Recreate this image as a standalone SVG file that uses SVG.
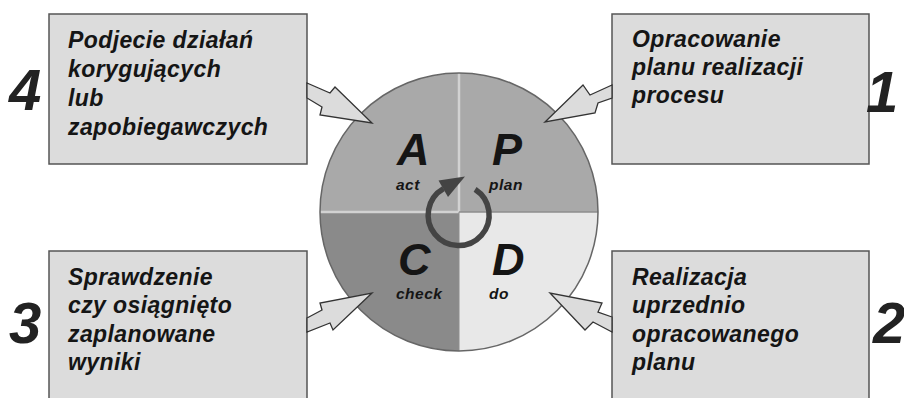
<svg xmlns="http://www.w3.org/2000/svg" width="904" height="398" viewBox="0 0 904 398">
<style>
.box{fill:#dcdcdc;stroke:#555;stroke-width:1.5}
.t{font-family:"Liberation Sans",Arial,sans-serif;font-weight:bold;font-style:italic;fill:#151515}
.bt{font-size:23px;letter-spacing:0.4px}
.num{font-size:58px;fill:#222}
.big{font-size:45px}
.small{font-size:15.5px;letter-spacing:0.5px}
.arr{fill:#dcdcdc;stroke:#333;stroke-width:1.3;stroke-linejoin:miter}
</style>
<rect width="904" height="398" fill="#fff"/>
<g id="cycle">
<path d="M459,212 L459,73 A139,139 0 0 0 320,212 Z" fill="#a9a9a9"/>
<path d="M459,212 L459,73 A139,139 0 0 1 598,212 Z" fill="#a9a9a9"/>
<path d="M459,212 L320,212 A139,139 0 0 0 459,351 Z" fill="#8a8a8a"/>
<path d="M459,212 L598,212 A139,139 0 0 1 459,351 Z" fill="#e8e8e8"/>
<line x1="459" y1="73" x2="459" y2="212" stroke="#d2d2d2" stroke-width="2.5"/>
<line x1="320" y1="212" x2="459" y2="212" stroke="#d2d2d2" stroke-width="2.5"/>
<line x1="459" y1="212" x2="598" y2="212" stroke="#8e8e8e" stroke-width="1.5"/>
<line x1="459" y1="212" x2="459" y2="351" stroke="#8e8e8e" stroke-width="1"/>
<circle cx="459" cy="212" r="139" fill="none" stroke="#666" stroke-width="1.5"/>
<text class="t big" x="397" y="165">A</text>
<text class="t small" x="396" y="190">act</text>
<text class="t big" x="492" y="165">P</text>
<text class="t small" x="489" y="190">plan</text>
<text class="t big" x="398" y="275">C</text>
<text class="t small" x="396" y="299">check</text>
<text class="t big" x="492" y="275">D</text>
<text class="t small" x="489" y="299">do</text>
<path d="M475.1,189.4 A30.5,30.5 0 1 1 443.5,188.6" fill="none" stroke="#444" stroke-width="5.5"/>
<polygon points="465,176.5 438.5,180.5 448,197" fill="#444"/>
</g>
<g id="node4">
<rect class="box" x="49" y="14" width="258" height="150"/>
<text class="t bt" x="68" y="48">Podjecie działań</text>
<text class="t bt" x="68" y="77">korygujących</text>
<text class="t bt" x="68" y="106">lub</text>
<text class="t bt" x="68" y="135">zapobiegawczych</text>
<text class="t num" x="9" y="110">4</text>
</g>
<g id="node1">
<rect class="box" x="612" y="14" width="257" height="150"/>
<text class="t bt" x="632" y="47">Opracowanie</text>
<text class="t bt" x="632" y="75">planu realizacji</text>
<text class="t bt" x="632" y="103">procesu</text>
<text class="t num" x="866" y="112">1</text>
</g>
<g id="node3">
<rect class="box" x="49" y="251" width="258" height="160"/>
<text class="t bt" x="68" y="285">Sprawdzenie</text>
<text class="t bt" x="68" y="313">czy osiągnięto</text>
<text class="t bt" x="68" y="342">zaplanowane</text>
<text class="t bt" x="68" y="370">wyniki</text>
<text class="t num" x="9" y="343">3</text>
</g>
<g id="node2">
<rect class="box" x="612" y="251" width="257" height="160"/>
<text class="t bt" x="632" y="285">Realizacja</text>
<text class="t bt" x="632" y="313">uprzednio</text>
<text class="t bt" x="632" y="342">opracowanego</text>
<text class="t bt" x="632" y="370">planu</text>
<text class="t num" x="873" y="343">2</text>
</g>
<g id="connectors">
<polygon class="arr" points="307,83 330,93 335,87 372,123 320,115 322,107 307,98"/>
<polygon class="arr" points="612,85 590,95 583,85 545,122 595,113 598,103 612,98"/>
<polygon class="arr" points="307,318 322,310 320,303 372,293 333,330 330,323 307,332"/>
<polygon class="arr" points="612,317 598,312 602,303 550,293 585,330 593,322 612,332"/>
</g>
</svg>
